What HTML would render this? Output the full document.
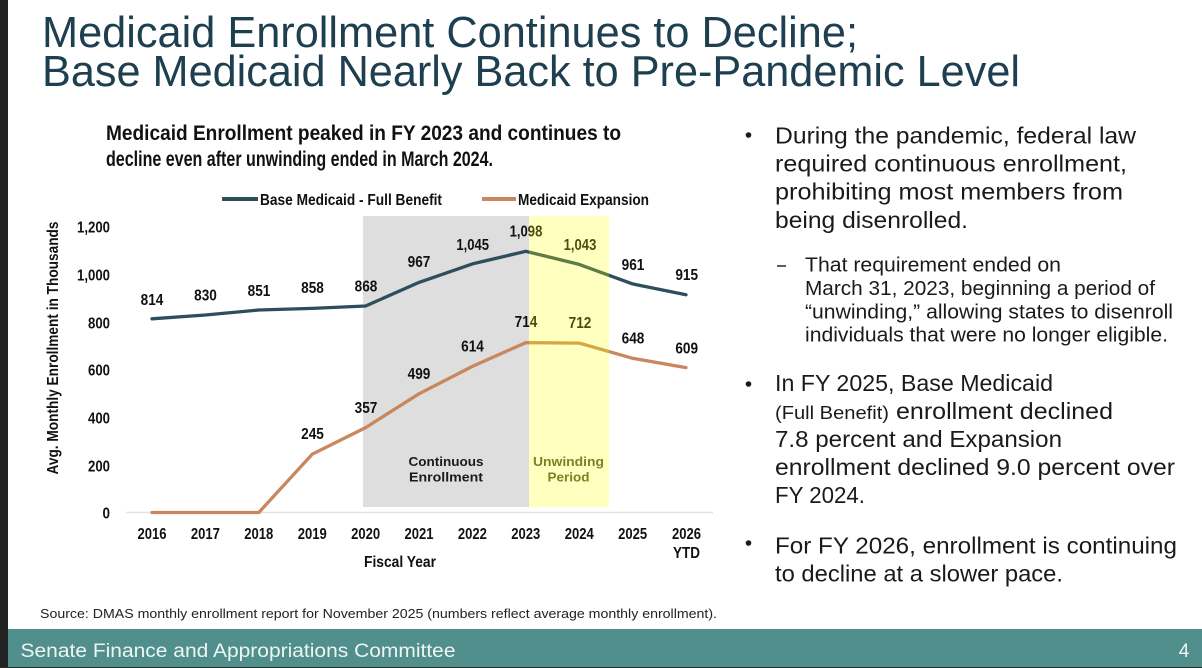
<!DOCTYPE html>
<html>
<head>
<meta charset="utf-8">
<style>
html,body{margin:0;padding:0;background:#fff;}
svg{display:block;}
.t{font-family:"Liberation Sans",Arial,sans-serif;}
.b{font-family:"Liberation Sans",Arial,sans-serif;font-weight:bold;}
</style>
</head>
<body>
<svg width="1202" height="668" viewBox="0 0 1202 668" xmlns="http://www.w3.org/2000/svg">
<rect x="0" y="0" width="1202" height="668" fill="#ffffff"/>
<!-- left dark bar -->
<rect x="0" y="0" width="8" height="668" fill="#232323"/>

<!-- Title -->
<g class="t" fill="#1d3f4f" font-size="44">
<text x="42" y="47" textLength="816" lengthAdjust="spacingAndGlyphs">Medicaid Enrollment Continues to Decline;</text>
<text x="42" y="86" textLength="978" lengthAdjust="spacingAndGlyphs">Base Medicaid Nearly Back to Pre-Pandemic Level</text>
</g>

<!-- Chart subtitle -->
<g class="b" fill="#111" font-size="21.5">
<text x="106" y="140" textLength="515" lengthAdjust="spacingAndGlyphs">Medicaid Enrollment peaked in FY 2023 and continues to</text>
<text x="106" y="166" textLength="387" lengthAdjust="spacingAndGlyphs">decline even after unwinding ended in March 2024.</text>
</g>

<!-- Legend -->
<line x1="222" y1="199" x2="258" y2="199" stroke="#2d4f5c" stroke-width="4"/>
<text class="b" x="260" y="205" font-size="16" fill="#111" textLength="182" lengthAdjust="spacingAndGlyphs">Base Medicaid - Full Benefit</text>
<line x1="482" y1="199" x2="516" y2="199" stroke="#c8875c" stroke-width="4"/>
<text class="b" x="518" y="205" font-size="16" fill="#111" textLength="131" lengthAdjust="spacingAndGlyphs">Medicaid Expansion</text>

<!-- Gray region -->
<rect x="363" y="216" width="166" height="291" fill="#dedede"/>

<!-- Axis line -->
<line x1="126" y1="512.5" x2="713" y2="512.5" stroke="#dde4e8" stroke-width="1.5"/>

<!-- Y tick labels -->
<g class="b" fill="#111" font-size="16" text-anchor="end">
<text x="110" y="232.7" textLength="33" lengthAdjust="spacingAndGlyphs">1,200</text>
<text x="110" y="280.7" textLength="33" lengthAdjust="spacingAndGlyphs">1,000</text>
<text x="110" y="328.3" textLength="22" lengthAdjust="spacingAndGlyphs">800</text>
<text x="110" y="375.7" textLength="22" lengthAdjust="spacingAndGlyphs">600</text>
<text x="110" y="423.3" textLength="22" lengthAdjust="spacingAndGlyphs">400</text>
<text x="110" y="471.7" textLength="22" lengthAdjust="spacingAndGlyphs">200</text>
<text x="110" y="518.3" textLength="7.5" lengthAdjust="spacingAndGlyphs">0</text>
</g>

<!-- Y axis title -->
<text class="b" font-size="16" fill="#111" text-anchor="middle" transform="translate(58,348) rotate(-90)" textLength="253" lengthAdjust="spacingAndGlyphs">Avg. Monthly Enrollment in Thousands</text>

<!-- X tick labels -->
<g class="b" fill="#111" font-size="16" text-anchor="middle">
<text x="152" y="539" textLength="29" lengthAdjust="spacingAndGlyphs">2016</text>
<text x="205.4" y="539" textLength="29" lengthAdjust="spacingAndGlyphs">2017</text>
<text x="258.8" y="539" textLength="29" lengthAdjust="spacingAndGlyphs">2018</text>
<text x="312.2" y="539" textLength="29" lengthAdjust="spacingAndGlyphs">2019</text>
<text x="365.6" y="539" textLength="29" lengthAdjust="spacingAndGlyphs">2020</text>
<text x="419" y="539" textLength="29" lengthAdjust="spacingAndGlyphs">2021</text>
<text x="472.4" y="539" textLength="29" lengthAdjust="spacingAndGlyphs">2022</text>
<text x="525.8" y="539" textLength="29" lengthAdjust="spacingAndGlyphs">2023</text>
<text x="579.2" y="539" textLength="29" lengthAdjust="spacingAndGlyphs">2024</text>
<text x="632.6" y="539" textLength="29" lengthAdjust="spacingAndGlyphs">2025</text>
<text x="686.5" y="539" textLength="29" lengthAdjust="spacingAndGlyphs">2026</text>
<text x="686.5" y="558" textLength="27" lengthAdjust="spacingAndGlyphs">YTD</text>
<text x="400" y="567" textLength="72" lengthAdjust="spacingAndGlyphs">Fiscal Year</text>
</g>

<!-- Region labels -->
<g class="b" fill="#1a1a1a" font-size="13" text-anchor="middle">
<text x="446" y="466" textLength="75" lengthAdjust="spacingAndGlyphs">Continuous</text>
<text x="446" y="481.5" textLength="74" lengthAdjust="spacingAndGlyphs">Enrollment</text>
</g>

<!-- Series lines -->
<polyline fill="none" stroke="#2d4f5c" stroke-width="3.3" stroke-linejoin="round" stroke-linecap="round"
 points="152,318.8 205.4,315 258.8,310 312.2,308.4 365.6,306 419,282.4 472.4,263.9 525.8,251.3 579.2,264.4 632.6,283.9 686,294.8"/>
<polyline fill="none" stroke="#c8875c" stroke-width="3.3" stroke-linejoin="round" stroke-linecap="round"
 points="152,512.5 205.4,512.5 258.8,512.5 312.2,454.2 365.6,427.6 419,393.8 472.4,366.4 525.8,342.6 579.2,343.1 632.6,358.3 686,367.6"/>

<!-- Data labels -->
<g class="b" fill="#111" font-size="16" text-anchor="middle">
<text x="152" y="305" textLength="22.7" lengthAdjust="spacingAndGlyphs">814</text>
<text x="205.5" y="300.7" textLength="22.7" lengthAdjust="spacingAndGlyphs">830</text>
<text x="259" y="296" textLength="22.7" lengthAdjust="spacingAndGlyphs">851</text>
<text x="312.5" y="293" textLength="22.7" lengthAdjust="spacingAndGlyphs">858</text>
<text x="366" y="291.7" textLength="22.7" lengthAdjust="spacingAndGlyphs">868</text>
<text x="419" y="267" textLength="22.7" lengthAdjust="spacingAndGlyphs">967</text>
<text x="472.7" y="250" textLength="32.7" lengthAdjust="spacingAndGlyphs">1,045</text>
<text x="526" y="236.7" textLength="32.7" lengthAdjust="spacingAndGlyphs">1,098</text>
<text x="580" y="250" textLength="32.7" lengthAdjust="spacingAndGlyphs">1,043</text>
<text x="633" y="270" textLength="22.7" lengthAdjust="spacingAndGlyphs">961</text>
<text x="686.7" y="280" textLength="22.7" lengthAdjust="spacingAndGlyphs">915</text>
<text x="312.5" y="439" textLength="22.7" lengthAdjust="spacingAndGlyphs">245</text>
<text x="366" y="413" textLength="22.7" lengthAdjust="spacingAndGlyphs">357</text>
<text x="419" y="379" textLength="22.7" lengthAdjust="spacingAndGlyphs">499</text>
<text x="472.5" y="351.7" textLength="22.7" lengthAdjust="spacingAndGlyphs">614</text>
<text x="526" y="327" textLength="22.7" lengthAdjust="spacingAndGlyphs">714</text>
<text x="580" y="328" textLength="22.7" lengthAdjust="spacingAndGlyphs">712</text>
<text x="633" y="343.3" textLength="22.7" lengthAdjust="spacingAndGlyphs">648</text>
<text x="686.7" y="353.3" textLength="22.7" lengthAdjust="spacingAndGlyphs">609</text>
</g>

<!-- Yellow overlay (semi-transparent) -->
<rect x="529" y="216" width="80" height="291" fill="#ffff00" fill-opacity="0.25"/>
<g class="b" fill="#7f7f26" font-size="13" text-anchor="middle">
<text x="568.5" y="466" textLength="71" lengthAdjust="spacingAndGlyphs">Unwinding</text>
<text x="568.5" y="481.5" textLength="42" lengthAdjust="spacingAndGlyphs">Period</text>
</g>

<!-- Right text -->
<g class="t" fill="#1a1a1a">
<circle cx="748.5" cy="135" r="2.8" fill="#1a1a1a"/>
<g font-size="23">
<text x="775" y="143.3" textLength="361" lengthAdjust="spacingAndGlyphs">During the pandemic, federal law</text>
<text x="775" y="171.5" textLength="352" lengthAdjust="spacingAndGlyphs">required continuous enrollment,</text>
<text x="775" y="199.7" textLength="348" lengthAdjust="spacingAndGlyphs">prohibiting most members from</text>
<text x="775" y="228" textLength="193" lengthAdjust="spacingAndGlyphs">being disenrolled.</text>
</g>
<line x1="777" y1="266" x2="786" y2="266" stroke="#1a1a1a" stroke-width="1.4"/>
<g font-size="20.5">
<text x="805" y="271.7" textLength="256" lengthAdjust="spacingAndGlyphs">That requirement ended on</text>
<text x="805" y="295" textLength="350" lengthAdjust="spacingAndGlyphs">March 31, 2023, beginning a period of</text>
<text x="805" y="318.3" textLength="368" lengthAdjust="spacingAndGlyphs">“unwinding,” allowing states to disenroll</text>
<text x="805" y="341.7" textLength="363" lengthAdjust="spacingAndGlyphs">individuals that were no longer eligible.</text>
</g>
<circle cx="748.5" cy="384" r="2.8" fill="#1a1a1a"/>
<g font-size="23">
<text x="775" y="391" textLength="278" lengthAdjust="spacingAndGlyphs">In FY 2025, Base Medicaid</text>
<text x="775" y="419" font-size="18" textLength="114" lengthAdjust="spacingAndGlyphs">(Full Benefit)</text>
<text x="896" y="419" textLength="217" lengthAdjust="spacingAndGlyphs">enrollment declined</text>
<text x="775" y="447" textLength="287" lengthAdjust="spacingAndGlyphs">7.8 percent and Expansion</text>
<text x="775" y="475" textLength="400" lengthAdjust="spacingAndGlyphs">enrollment declined 9.0 percent over</text>
<text x="775" y="503" textLength="90" lengthAdjust="spacingAndGlyphs">FY 2024.</text>
</g>
<circle cx="748.5" cy="543" r="2.8" fill="#1a1a1a"/>
<g font-size="23">
<text x="775" y="553.3" textLength="402" lengthAdjust="spacingAndGlyphs">For FY 2026, enrollment is continuing</text>
<text x="775" y="581.7" textLength="288" lengthAdjust="spacingAndGlyphs">to decline at a slower pace.</text>
</g>
</g>

<!-- Source -->
<text class="t" x="40" y="618" font-size="12.5" fill="#222" textLength="677" lengthAdjust="spacingAndGlyphs">Source: DMAS monthly enrollment report for November 2025 (numbers reflect average monthly enrollment).</text>

<!-- Footer -->
<rect x="8" y="629" width="1194" height="39" fill="#508f8c"/>
<rect x="0" y="667" width="1202" height="1" fill="#2a2a2a"/>
<text class="t" x="20.5" y="657" font-size="19" fill="#eef5f4" textLength="435" lengthAdjust="spacingAndGlyphs">Senate Finance and Appropriations Committee</text>
<text class="t" x="1184" y="657" font-size="19" fill="#eef5f4" text-anchor="middle">4</text>
</svg>
</body>
</html>
